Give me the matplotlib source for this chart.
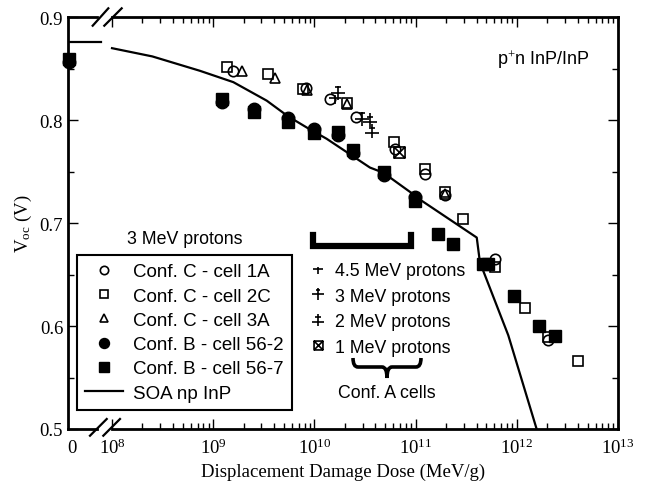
import numpy as np
import matplotlib
matplotlib.use("Agg")
import matplotlib.pyplot as plt
from matplotlib.path import Path
from matplotlib.patches import PathPatch
from matplotlib.ticker import FixedLocator, NullFormatter

plt.rcParams['font.family'] = ['Liberation Serif', 'DejaVu Serif']
plt.rcParams['mathtext.fontset'] = 'custom'
plt.rcParams['mathtext.rm'] = 'Liberation Serif'
plt.rcParams['mathtext.it'] = 'Liberation Serif:italic'
SANS = ['Liberation Sans', 'DejaVu Sans']

# --- data (dose in MeV/g, Voc in V); dose 0 points kept separately ---
c1a_dose = [1.58e9, 8.3e9, 1.43e10, 2.58e10, 6.25e10, 1.24e11, 1.95e11, 6.1e11, 2.02e12]
c1a_voc = [0.848, 0.831, 0.821, 0.803, 0.772, 0.748, 0.727, 0.665, 0.586]

c2c_dose = [1.38e9, 3.5e9, 7.65e9, 2.08e10, 6.12e10, 1.24e11, 1.95e11, 2.92e11,
            6.1e11, 1.2e12, 2.02e12, 4.0e12]
c2c_voc = [0.852, 0.845, 0.830, 0.817, 0.779, 0.753, 0.730, 0.704,
           0.657, 0.618, 0.589, 0.566]

c3a_dose = [1.94e9, 4.08e9, 8.45e9, 2.08e10, 1.95e11]
c3a_voc = [0.848, 0.841, 0.829, 0.816, 0.728]

b562_voc0 = 0.857
b562_dose = [1.23e9, 2.55e9, 5.45e9, 1.0e10, 1.72e10, 2.42e10, 4.88e10, 9.86e10]
b562_voc = [0.818, 0.811, 0.802, 0.791, 0.786, 0.768, 0.747, 0.725]

b567_voc0 = 0.859
b567_dose = [1.23e9, 2.55e9, 5.45e9, 1.0e10, 1.72e10, 2.42e10, 4.88e10, 9.86e10,
             1.68e11, 2.36e11, 4.67e11, 5.22e11, 9.38e11, 1.66e12, 2.38e12]
b567_voc = [0.821, 0.808, 0.798, 0.788, 0.789, 0.771, 0.750, 0.722,
            0.689, 0.680, 0.660, 0.660, 0.629, 0.600, 0.590]

p45_dose = [1.6e10]
p45_voc = [0.822]
p3_dose = [1.7e10, 2.93e10]
p3_voc = [0.826, 0.801]
p2_dose = [3.54e10, 3.68e10]
p2_voc = [0.800, 0.790]
p1_dose = [6.86e10]
p1_voc = [0.769]

soa_voc0 = 0.876
soa_dose = [1e8, 2.5e8, 7.4e8, 1.58e9, 3.38e9, 5.45e9, 9.06e9, 1.32e10, 3.54e10,
            4.8e10, 9.5e10, 1.1e11, 4.02e11, 4.32e11, 8.24e11, 1.57e12]
soa_voc = [0.870, 0.862, 0.848, 0.837, 0.819, 0.804, 0.791, 0.782, 0.754,
           0.749, 0.728, 0.723, 0.686, 0.662, 0.591, 0.500]

decades = [8, 9, 10, 11, 12, 13]

# position used for the "0" dose on the broken axis
ZERO_X = 10 ** 7.575
XMIN, XMAX = 10 ** 7.565, 1e13

# custom markers for the proton energies
m3 = Path([(-1, 0), (1, 0), (0, 1), (0, -1), (-0.4, 0.8), (0.4, 0.8)],
          [Path.MOVETO, Path.LINETO, Path.MOVETO, Path.LINETO, Path.MOVETO, Path.LINETO])
m2 = Path([(0, 1), (0, -1), (-0.5, 0.5), (0.5, 0.5), (-1, -0.3), (1, -0.3)],
          [Path.MOVETO, Path.LINETO, Path.MOVETO, Path.LINETO, Path.MOVETO, Path.LINETO])
m1 = Path([(-1, -1), (1, -1), (1, 1), (-1, 1), (-1, -1), (1, 1), (-1, 1), (1, -1)],
          [Path.MOVETO, Path.LINETO, Path.LINETO, Path.LINETO, Path.LINETO,
           Path.LINETO, Path.MOVETO, Path.LINETO])
m45 = Path([(-1, 0), (1, 0), (0, 0.5), (0, -1)],
           [Path.MOVETO, Path.LINETO, Path.MOVETO, Path.LINETO])

fig = plt.figure(figsize=(6.46, 4.89), dpi=100)
ax = fig.add_axes([68 / 646, 59 / 489, 550 / 646, 411.7 / 489])

open_kw = dict(ls='none', mfc='none', mec='k', mew=1.2, color='k', clip_on=False)
fill_kw = dict(ls='none', color='k', clip_on=False)

h_soa, = ax.plot(soa_dose, soa_voc, color='k', lw=1.6, label='SOA np InP')
ax.plot([ZERO_X, 10 ** 7.89], [soa_voc0, soa_voc0], color='k', lw=1.6)

h_b2, = ax.plot([ZERO_X] + b562_dose, [b562_voc0] + b562_voc, marker='o', ms=9,
                label='Conf. B - cell 56-2', **fill_kw)
h_b7, = ax.plot([ZERO_X] + b567_dose, [b567_voc0] + b567_voc, marker='s', ms=8.5,
                label='Conf. B - cell 56-7', **fill_kw)
h_1a, = ax.plot(c1a_dose, c1a_voc, marker='o', ms=7.5, label='Conf. C - cell 1A', **open_kw)
h_2c, = ax.plot(c2c_dose, c2c_voc, marker='s', ms=7.5, label='Conf. C - cell 2C', **open_kw)
h_3a, = ax.plot(c3a_dose, c3a_voc, marker='^', ms=7.5, label='Conf. C - cell 3A', **open_kw)

h_p45, = ax.plot(p45_dose, p45_voc, marker=m45, ms=9, label='4.5 MeV protons', **open_kw)
h_p3, = ax.plot(p3_dose, p3_voc, marker=m3, ms=10, label='3 MeV protons', **open_kw)
h_p2, = ax.plot(p2_dose, p2_voc, marker=m2, ms=10, label='2 MeV protons', **open_kw)
h_p1, = ax.plot(p1_dose, p1_voc, marker=m1, ms=8, label='1 MeV protons', **open_kw)

ax.set_xscale('log')
ax.set_xlim(XMIN, XMAX)
ax.set_ylim(0.5, 0.9)

ax.xaxis.set_major_locator(FixedLocator([10.0 ** d for d in decades]))
ax.set_xticklabels([r'$10^{%d}$' % d for d in decades])
ax.xaxis.set_minor_locator(FixedLocator([m * 10.0 ** d for d in decades[:-1] for m in range(2, 10)]))
ax.xaxis.set_minor_formatter(NullFormatter())
ax.set_yticks([0.5, 0.6, 0.7, 0.8, 0.9])
ax.set_yticklabels(['0.5', '0.6', '0.7', '0.8', '0.9'])
ax.set_yticks(np.arange(0.55, 0.9, 0.1), minor=True)
ax.tick_params(which='both', direction='in', top=True, right=True, labelsize=13.5, width=1)
ax.tick_params(which='major', length=7)
ax.tick_params(which='minor', length=4)
ax.tick_params(axis='x', pad=6)
ax.text(10 ** 7.6, -0.045, '0', transform=ax.get_xaxis_transform(), ha='center', va='center',
        fontsize=13.5)

ax.set_xlabel('Displacement Damage Dose (MeV/g)', fontsize=13.5, labelpad=4)
ax.set_ylabel(r'V$_{\rm oc}$ (V)', fontsize=13.5, labelpad=4)

# spines with axis break
for s in ['left', 'right']:
    ax.spines[s].set_linewidth(2)
ax.spines['top'].set_visible(False)
ax.spines['bottom'].set_visible(False)
for yy in [0, 1]:
    ax.plot([0, 0.0527], [yy, yy], transform=ax.transAxes, color='k', lw=2, clip_on=False)
    ax.plot([0.08, 1], [yy, yy], transform=ax.transAxes, color='k', lw=2, clip_on=False)
for x0, x1 in [(0.040, 0.0704), (0.0642, 0.0945)]:
    ax.plot([x0, x1], [-0.0163, 0.0243], transform=ax.transAxes, color='k', lw=1.6, clip_on=False)
for x0, x1 in [(0.0449, 0.0733), (0.066, 0.0976)]:
    ax.plot([x0, x1], [0.9796, 1.0218], transform=ax.transAxes, color='k', lw=1.6, clip_on=False)


def fx(px):
    return (px - 68) / 550.0


def fy(py):
    return (430 - py) / 411.7


# legends
leg1 = ax.legend(handles=[h_1a, h_2c, h_3a, h_b2, h_b7, h_soa], loc='lower left',
                 bbox_to_anchor=(fx(77), fy(411)), borderaxespad=0, frameon=True,
                 fancybox=False, edgecolor='k', framealpha=1, prop={'family': SANS, 'size': 13.5},
                 handlelength=2.0, handletextpad=0.55, labelspacing=0.38, borderpad=0.45,
                 markerscale=0.8)
leg1.get_frame().set_linewidth(1.5)
ax.add_artist(leg1)
leg2 = ax.legend(handles=[h_p45, h_p3, h_p2, h_p1], loc='upper left',
                 bbox_to_anchor=(fx(303), fy(256)), borderaxespad=0, frameon=False,
                 prop={'family': SANS, 'size': 12.8}, handlelength=0.9, handletextpad=0.5,
                 labelspacing=0.48, markerscale=0.8)

ax.text(fx(185), fy(240), '3 MeV protons', transform=ax.transAxes, ha='center', va='center',
        fontsize=12.8, family=SANS)
ax.text(fx(497), fy(60), r'p$^{+}$n InP/InP', transform=ax.transAxes, ha='left', va='center',
        fontsize=13, family=SANS)
ax.text(fx(387), fy(394), 'Conf. A cells', transform=ax.transAxes, ha='center', va='center',
        fontsize=12.8, family=SANS)

# bracket bar
ax.plot([fx(313), fx(313), fx(411), fx(411)], [fy(236), fy(247), fy(247), fy(236)],
        transform=ax.transAxes, color='k', lw=4.5, solid_joinstyle='miter', clip_on=False)

# curly brace under the proton list
bx = [353, 353, 358, 382, 387, 387, 387, 392, 416, 421, 421]
by = [359, 368, 368, 368, 368, 379, 368, 368, 368, 368, 359]
verts = [(fx(a), fy(b)) for a, b in zip(bx, by)]
codes = [Path.MOVETO, Path.CURVE3, Path.CURVE3, Path.LINETO, Path.CURVE3, Path.CURVE3,
         Path.CURVE3, Path.CURVE3, Path.LINETO, Path.CURVE3, Path.CURVE3]
ax.add_patch(PathPatch(Path(verts, codes), transform=ax.transAxes, fc='none', ec='k',
                       lw=2.6, clip_on=False))

fig.savefig('out.png', dpi=100)
